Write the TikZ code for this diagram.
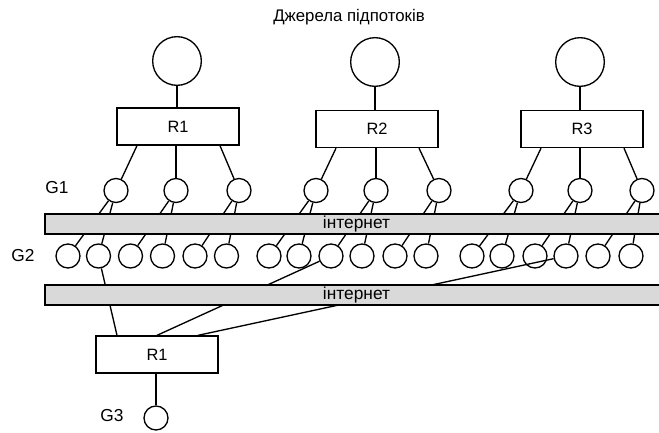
\documentclass[tikz,border=0pt]{standalone}
\usepackage{fontspec}
\setmainfont{Liberation Sans}
\begin{document}
\begin{tikzpicture}[x=0.75pt,y=-0.75pt,line width=1pt,
  src/.style={circle,draw,minimum size=36.5pt,inner sep=0pt},
  peer/.style={circle,draw,minimum size=18pt,inner sep=0pt},
  router/.style={draw,rectangle,minimum width=91.5pt,minimum height=27.75pt,inner sep=0pt,font=\fontsize{12.3}{14}\selectfont},
  net/.style={draw,fill=black!15,line width=0.8pt},
  tag/.style={font=\fontsize{13}{15}\selectfont}]
\useasboundingbox (0,0) rectangle (659,432);

% title
\node[font=\fontsize{12.6}{14}\selectfont] (title) at (349,17) {Джерела підпотоків};

% stream sources and their relays
\node[src] (t1) at (177,61) {};
\node[src] (t2) at (375,62) {};
\node[src] (t3) at (580,62) {};
\node[router] (r1) at (178,126.5) {R1};
\node[router] (r2) at (377,129) {R2};
\node[router] (r3) at (582,129) {R3};
\foreach \k in {1,2,3} \draw (t\k) -- (t\k |- r\k.north);

% first level peers
\foreach \x [count=\i] in {116,176,239,316,376,439,521,580,642}
  \node[peer] (a\i) at (\x,190.5) {};
% second level peers
\foreach \x [count=\i] in {68,98.5,130.5,162.5,195,226.5,269,299,331,362,395,426,472,502,535,566,598,631}
  \node[peer] (b\i) at (\x,256) {};

% relays to first level
\foreach \k/\p/\q/\s in {1/1/2/3,2/4/5/6,3/7/8/9} {
  \draw ([xshift=-30.75pt]r\k.south) -- (a\p);
  \draw (a\q |- r\k.south) -- (a\q);
  \draw ([xshift=31.5pt]r\k.south) -- (a\s);
}
% first level to second level
\foreach \i in {1,...,9} {
  \pgfmathtruncatemacro\lo{2*\i-1}
  \pgfmathtruncatemacro\hi{2*\i}
  \draw (a\i) -- (b\lo);
  \draw (a\i) -- (b\hi);
}

% receiving relay and final peer
\node[router] (r4) at (157,354.5) {R1};
\node[peer] (c1) at (156,418) {};
\draw (b2) -- ([xshift=-30pt]r4.north);
\draw (b9) -- (r4.north);
\draw (b16) -- ([xshift=30.75pt]r4.north);
\draw (c1 |- r4.south) -- (c1);

% internet bands
\path[net] (45,214) rectangle (662,234);
\path[net] (45,285) rectangle (662,305);
\node[tag] (inet1) at (356.5,224) {інтернет};
\node[tag] (inet2) at (356.5,295.5) {інтернет};

% level labels
\node[tag] (g1) at (57,188) {G1};
\node[tag] (g2) at (23,256) {G2};
\node[tag] (g3) at (112,416) {G3};
\end{tikzpicture}
\end{document}
